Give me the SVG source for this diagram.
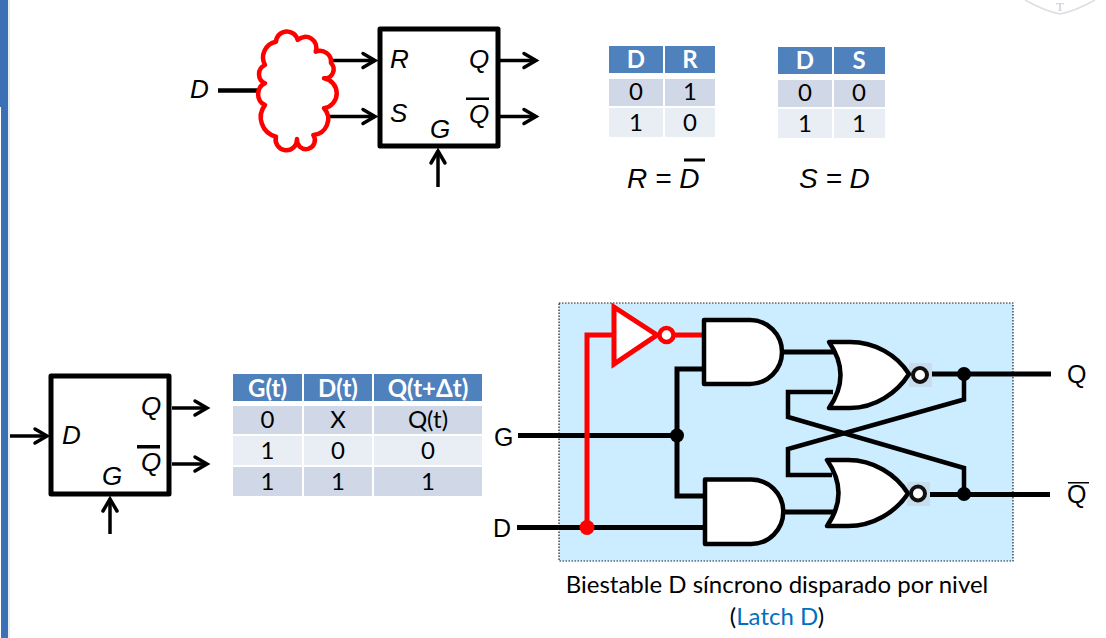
<svg xmlns="http://www.w3.org/2000/svg" width="1106" height="638" viewBox="0 0 1106 638">
<style>
text{font-family:"Liberation Sans",Arial,sans-serif;fill:#000}
.i{font-style:italic;font-size:26px}
.i2{font-style:italic;font-size:28px}
.c{font-family:Lato,"Open Sans",sans-serif;font-size:24px;text-anchor:middle}
.h{font-family:Lato,"Open Sans",sans-serif;font-size:24px;font-weight:700;fill:#fff;text-anchor:middle}
.p{font-size:25px}
.cap{font-family:Lato,"Open Sans",sans-serif;font-size:24px;text-anchor:middle}
.hd{fill:#4F81BD}.r1{fill:#D0D8E8}.r2{fill:#E9EDF4}
.box{fill:#fff;stroke:#000;stroke-width:5;stroke-linejoin:round}
.gate{fill:#fff;stroke:#000;stroke-width:4.5;stroke-linejoin:round}
.w{fill:none;stroke:#000;stroke-width:5;stroke-linejoin:miter}
.w4{fill:none;stroke:#000;stroke-width:4.5;stroke-linejoin:miter}
.red{fill:none;stroke:#f00;stroke-width:5}
.a{fill:none;stroke:#000;stroke-width:3.5;marker-end:url(#ah)}
.bub{fill:#fff;stroke:#111;stroke-width:4}
.halo{fill:#C9DCEC}
</style>
<defs>
<marker id="ah" markerUnits="userSpaceOnUse" markerWidth="20" markerHeight="20" refX="15" refY="10" orient="auto" overflow="visible">
<path d="M3,3 L15,10 L3,17" fill="none" stroke="#000" stroke-width="3.5" stroke-linecap="round" stroke-linejoin="miter"/>
</marker>
</defs>
<rect width="1106" height="638" fill="#fff"/>
<g id="slide-edge">
<rect x="0" y="0" width="8" height="638" fill="#3B6FB6"/>
<rect x="8" y="0" width="2" height="638" fill="#E6EEF0"/>
<rect x="0" y="107" width="1" height="531" fill="#fff"/>
</g>
<g id="watermark">
<path d="M1025,0 Q1045,11 1060,14 Q1075,11 1095,0" fill="none" stroke="#DDD" stroke-width="1.5"/>
<text x="1060" y="11" font-size="13" text-anchor="middle" style="fill:#C8C8C8;font-family:'Liberation Serif',serif">T</text>
</g>

<g id="latch-box">
<rect x="559" y="303" width="454" height="258" fill="#CCECFF" stroke="#222" stroke-width="1.2" stroke-dasharray="1.5 1.5"/>
</g>

<g id="connectors">
<path class="w4" d="M218,90.5H262"/>
<path class="a" d="M331,60.5H375"/>
<path class="a" d="M329,116.5H375"/>
<path class="a" d="M500,60.5H536"/>
<path class="a" d="M500,116.5H536"/>
<path class="a" d="M438,187V151"/>
<path class="a" d="M10,436H47"/>
<path class="a" d="M172,408H207"/>
<path class="a" d="M172,464H207"/>
<path class="a" d="M110,534V499"/>
<path class="w" d="M518,435.5H677"/>
<path class="w" d="M517,527.5H705"/>
<path class="w" d="M704,369H677V496H705"/>
<path class="w" d="M782,352H836"/>
<path class="w" d="M783,512H834"/>
<path class="w" d="M928,374H1051"/>
<path class="w" d="M926,494.5H1050"/>
<path class="w4" d="M964,374V399.5L788,449V475H832"/>
<path class="w4" d="M833,392H788V417L964,468V494"/>
<path class="red" d="M614,335H587V527"/>
<path class="red" d="M674,335H704"/>
</g>

<g id="rs-cloud">
<path d="M276,41.7A11,11 0 0 1 297.7,40A11,11 0 0 1 315.7,51.7A11,11 0 0 1 331,63A9,9 0 0 1 324,78.3A15.2,15.2 0 0 1 324,108.3A16,16 0 0 1 313.3,135A9,9 0 1 1 297,139A10.7,10.7 0 1 1 276,136.7A20,20 0 0 1 265,105A12,12 0 0 1 265,83.3A10,10 0 0 1 265,65A16,16 0 0 1 276,41.7Z" fill="#fff" stroke="#f00" stroke-width="4.5" stroke-linejoin="round"/>
</g>
<g id="d-label-top"><text class="i" x="190" y="98">D</text></g>

<g id="rs-block">
<rect class="box" x="380" y="29" width="118" height="117"/>
<text class="i" x="390" y="68">R</text>
<text class="i" x="469" y="68">Q</text>
<text class="i" x="390" y="122">S</text>
<text class="i" x="469" y="123">Q</text>
<rect x="466" y="97.5" width="23" height="2.5" fill="#000"/>
<text class="i" x="430" y="138">G</text>
</g>

<g id="table-dr">
<rect class="hd" x="609" y="46" width="54" height="27"/><rect class="hd" x="665" y="46" width="50" height="27"/>
<rect class="r1" x="609" y="79" width="54" height="27"/><rect class="r1" x="665" y="79" width="50" height="27"/>
<rect class="r2" x="609" y="108" width="54" height="29"/><rect class="r2" x="665" y="108" width="50" height="29"/>
<text class="h" x="636" y="68">D</text><text class="h" x="690" y="68">R</text>
<text class="c" x="636" y="100">0</text><text class="c" x="690" y="100">1</text>
<text class="c" x="636" y="131">1</text><text class="c" x="690" y="131">0</text>
</g>
<g id="table-ds">
<rect class="hd" x="778" y="47" width="54" height="27"/><rect class="hd" x="834" y="47" width="51" height="27"/>
<rect class="r1" x="778" y="80" width="54" height="27"/><rect class="r1" x="834" y="80" width="51" height="27"/>
<rect class="r2" x="778" y="109" width="54" height="29"/><rect class="r2" x="834" y="109" width="51" height="29"/>
<text class="h" x="805" y="69">D</text><text class="h" x="859" y="69">S</text>
<text class="c" x="805" y="101">0</text><text class="c" x="859" y="101">0</text>
<text class="c" x="805" y="132">1</text><text class="c" x="859" y="132">1</text>
</g>
<g id="eq-r">
<text class="i2" x="627" y="188">R = D</text>
<rect x="684" y="158.5" width="21" height="3" fill="#000"/>
</g>
<g id="eq-s"><text class="i2" x="799" y="188">S = D</text></g>

<g id="d-block">
<rect class="box" x="51" y="376" width="118" height="118"/>
<text class="i" x="62" y="444">D</text>
<text class="i" x="141" y="415">Q</text>
<text class="i" x="141" y="471">Q</text>
<rect x="137" y="445" width="23" height="3.5" fill="#000"/>
<text class="i" x="102" y="485">G</text>
</g>

<g id="table-latch">
<rect class="hd" x="233" y="374" width="69" height="27"/><rect class="hd" x="304" y="374" width="68" height="27"/><rect class="hd" x="374" y="374" width="108" height="27"/>
<rect class="r1" x="233" y="406" width="69" height="28"/><rect class="r1" x="304" y="406" width="68" height="28"/><rect class="r1" x="374" y="406" width="108" height="28"/>
<rect class="r2" x="233" y="436" width="69" height="29"/><rect class="r2" x="304" y="436" width="68" height="29"/><rect class="r2" x="374" y="436" width="108" height="29"/>
<rect class="r1" x="233" y="467" width="69" height="29"/><rect class="r1" x="304" y="467" width="68" height="29"/><rect class="r1" x="374" y="467" width="108" height="29"/>
<text class="h" x="267.500" y="397">G(t)</text><text class="h" x="338" y="397">D(t)</text><text class="h" x="428" y="397">Q(t+Δt)</text>
<text class="c" x="267.500" y="428">0</text><text class="c" x="338" y="428">X</text><text class="c" x="428" y="428">Q(t)</text>
<text class="c" x="267.500" y="459">1</text><text class="c" x="338" y="459">0</text><text class="c" x="428" y="459">0</text>
<text class="c" x="267.500" y="490">1</text><text class="c" x="338" y="490">1</text><text class="c" x="428" y="490">1</text>
</g>

<g id="inverter">
<path d="M614,307V364L657,335Z" fill="#fff" stroke="#f00" stroke-width="5" stroke-linejoin="miter"/>
<circle cx="666.500" cy="335" r="7" fill="#fff" stroke="#f00" stroke-width="4.5"/>
</g>
<g id="and-top"><path class="gate" d="M704,320H750A32,32 0 0 1 750,384H704Z"/></g>
<g id="and-bottom"><path class="gate" d="M705,479.500H751A32,32 0 0 1 751,544H705Z"/></g>
<g id="nor-top">
<rect class="halo" x="909" y="363" width="23" height="24"/>
<path class="gate" d="M829,342H850C875,342 897,355 909,374C897,393 875,408 850,408H829Q852,375 829,342Z"/>
<circle class="bub" cx="920" cy="375" r="7"/>
</g>
<g id="nor-bottom">
<rect class="halo" x="907" y="482" width="23" height="24"/>
<path class="gate" d="M827,460H848C873,460 896,474 908,493.500C896,512 873,526 848,526H827Q850,493 827,460Z"/>
<circle class="bub" cx="918" cy="493.500" r="7"/>
</g>
<g id="junctions">
<circle cx="677" cy="435.500" r="7"/>
<circle cx="964" cy="374" r="7"/>
<circle cx="964" cy="494" r="7"/>
<circle cx="587" cy="527.500" r="7.500" fill="#f00"/>
</g>
<g id="port-labels">
<text class="p" x="494" y="446">G</text>
<text class="p" x="493" y="537">D</text>
<text class="p" x="1067" y="383">Q</text>
<text class="p" x="1067" y="503">Q</text>
<rect x="1068" y="482" width="21" height="1.500" fill="#000"/>
</g>
<g id="caption">
<text class="cap" x="777" y="593">Biestable D síncrono disparado por nivel</text>
<text class="cap" x="777" y="625">(<tspan style="fill:#0070C0">Latch D</tspan>)</text>
</g>
</svg>
